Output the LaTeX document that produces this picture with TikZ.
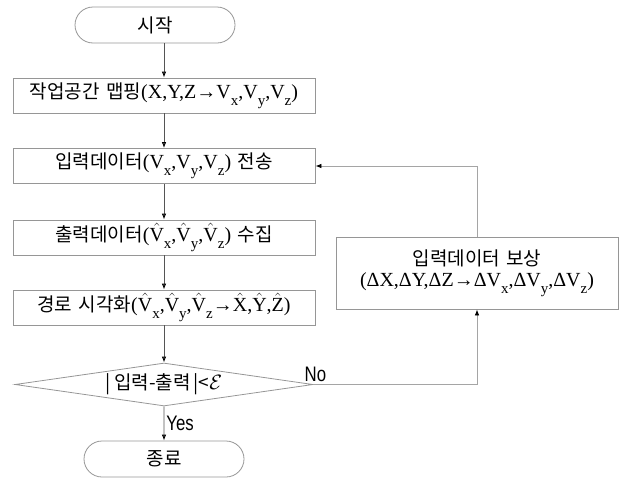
\documentclass[tikz,border=0pt]{standalone}
\usepackage{fontspec}
\setmainfont{Liberation Serif}
\newfontfamily\krfont[WordSpace=1.5]{Noto Sans CJK KR}
\newfontfamily\narrowfont[FakeStretch=0.8]{Liberation Sans}
\usetikzlibrary{shapes.geometric, shapes.misc, arrows.meta}
\definecolor{boxgray}{RGB}{150,150,150}
\definecolor{arrowgray}{RGB}{85,85,85}
\definecolor{backgray}{RGB}{165,165,165}
\newcommand{\kr}[1]{{\krfont\fontsize{19}{22}\selectfont #1}}
\newcommand{\lowsub}[1]{\raisebox{-0.35em}{\fontsize{15}{15}\selectfont #1}}
\newcommand{\Vs}[1]{V\lowsub{#1}}
\newcommand{\Vh}[1]{$\hat{\hbox{V}}$\lowsub{#1}}
\newcommand{\hatted}[1]{$\hat{\hbox{#1}}$}

\begin{document}
\begin{tikzpicture}[x=1pt,y=-1pt,>={Latex[length=6pt,width=4.5pt,color=black]},line width=0.8pt,
	every node/.style={font=\fontsize{20}{24}\selectfont},
	block/.style={rectangle, draw=boxgray, minimum width=302pt, minimum height=35pt, inner sep=0pt},
	term/.style={rounded rectangle, draw=boxgray, minimum width=160pt, minimum height=36pt, inner sep=0pt},
	decision/.style={diamond, draw=boxgray, aspect=7, minimum width=298pt, minimum height=43pt, inner sep=0pt},
	yesno/.style={font=\narrowfont\fontsize{21}{24}\selectfont, text=black, inner sep=2pt}]
	\useasboundingbox (0,0) rectangle (623,477);

	\node[term						] (START) 		at (155,25)		{\kr{시작}};
	\node[block						] (MAP) 		at (164,95.5)	{\kr{작업공간 맵핑}(X,Y,Z→\Vs{x},\Vs{y},\Vs{z})};
	\node[block						] (SEND) 		at (164,166)	{\kr{입력데이터}(\Vs{x},\Vs{y},\Vs{z})\kr{ 전송}};
	\node[block						] (COLLECT) 	at (164,237.5)	{\kr{출력데이터}(\Vh{x},\Vh{y},\Vh{z})\kr{ 수집}};
	\node[block						] (VIEW) 		at (164,307.5)	{\kr{경로 시각화}(\Vh{x},\Vh{y},\Vh{z}→\hatted{X},\hatted{Y},\hatted{Z})};
	\node[decision					] (CHECK) 		at (164,384.5)	{\kr{|\,입력-출력\,|<}$\mathcal{E}$};
	\node[term						] (STOP) 		at (164,459)	{\kr{종료}};

	\node[block, align=center, minimum width=282pt, minimum height=72pt] (COMP) at (477,273)
		{\kr{입력데이터 보상}\\[-3pt](ΔX,ΔY,ΔZ→Δ\Vs{x},Δ\Vs{y},Δ\Vs{z})};

	\draw[arrowgray]	(START.south -| MAP.north)	edge[->]						(MAP)
				(MAP)			edge[->]						(SEND)
				(SEND)			edge[->]						(COLLECT)
				(COLLECT)		edge[->]						(VIEW)
				(VIEW)			edge[->]						(CHECK)
				(CHECK)			edge[->]	node[yesno, right] (YES) {Yes}	(STOP)
				;

	\draw[backgray,->]	(CHECK.east) -| node[yesno, pos=0, above, xshift=2pt] (NO) {No} (COMP.south);
	\draw[backgray,->]	(COMP.north) |- (SEND.east);

\end{tikzpicture}
\end{document}
